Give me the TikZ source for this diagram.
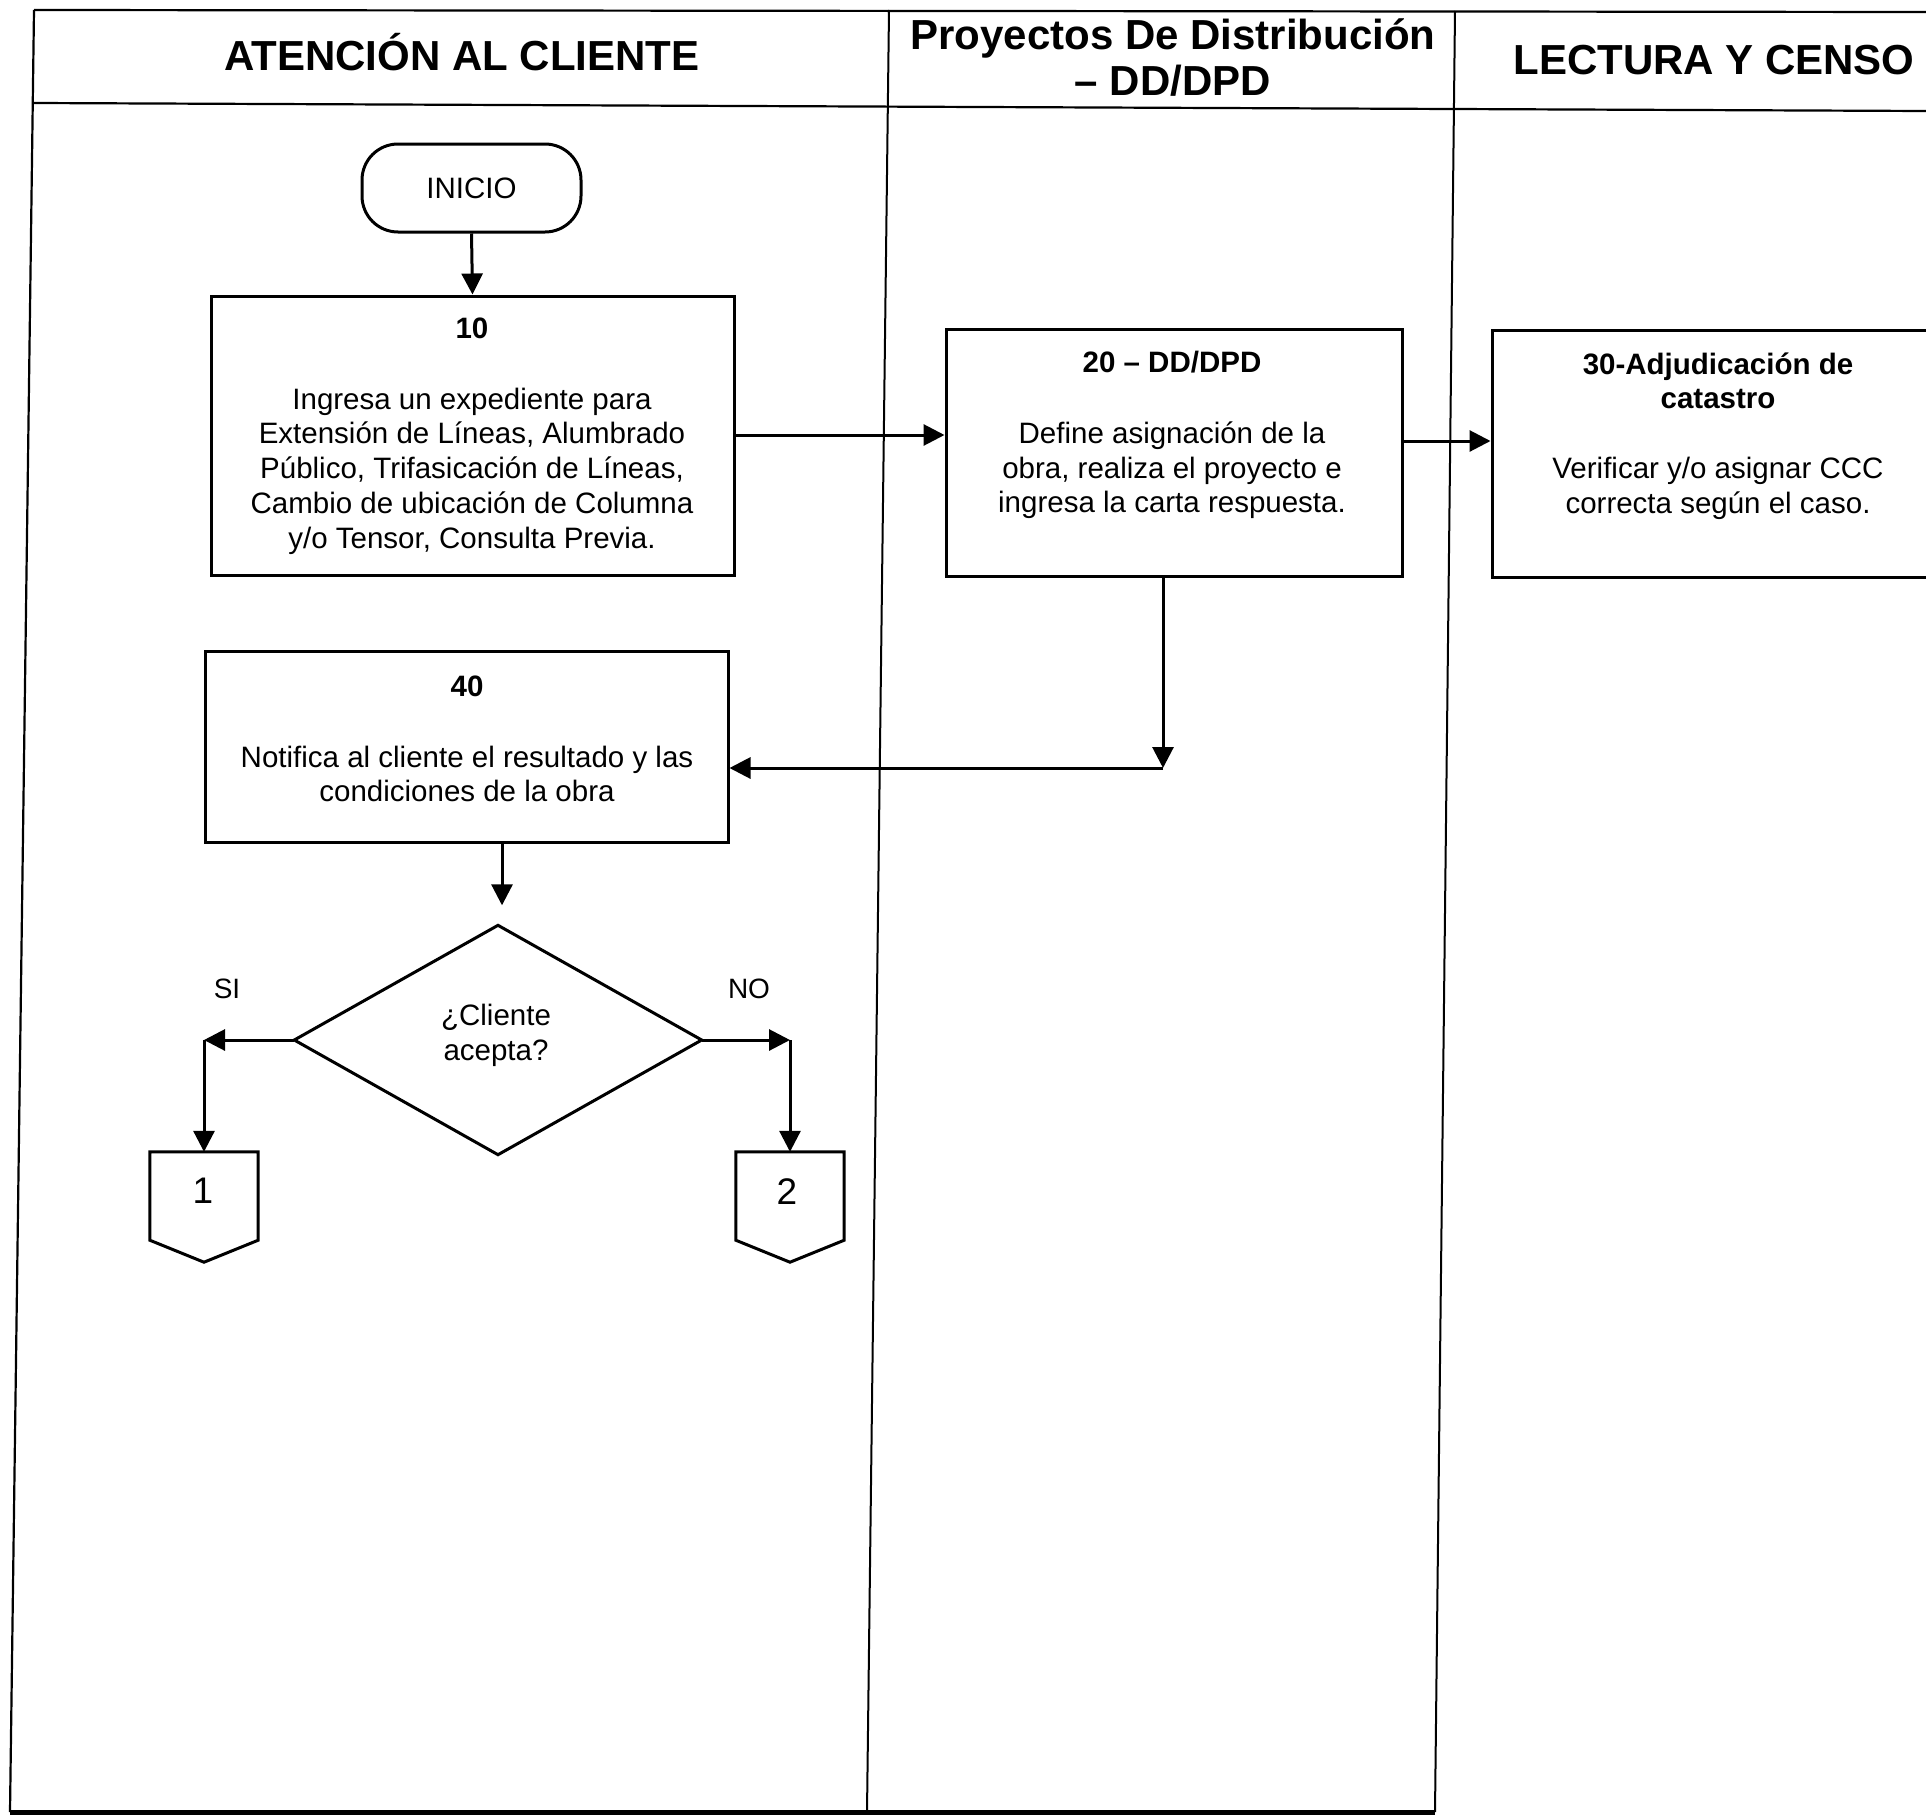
\documentclass[tikz,border=0pt]{standalone}
\usepackage{fontspec}
\setmainfont{Liberation Sans}
\usetikzlibrary{arrows.meta,calc}
\tikzset{
  frameline/.style={line width=2.2pt, black},
  laneline/.style={line width=2pt, black},
  boxstyle/.style={draw, line width=3pt, inner sep=0pt},
  plainshape/.style={inner sep=0pt},
  shapeline/.style={line width=3pt, line join=miter},
  txt/.style={align=center, inner sep=0pt, font=\fontsize{29.5}{34.8}\selectfont},
  headtxt/.style={align=center, inner sep=0pt, font=\fontsize{42}{46}\selectfont\bfseries},
  lbl/.style={inner sep=0pt, font=\fontsize{28}{32}\selectfont},
  numtxt/.style={inner sep=0pt, font=\fontsize{37}{40}\selectfont},
  arr/.style={-{Triangle[length=21pt,width=21pt]}, line width=3pt},
}
\begin{document}
\begin{tikzpicture}[x=1pt,y=-1pt]
\useasboundingbox (0,0) rectangle (1926,1817);
\fill[white] (0,0) rectangle (1926,1817);
\clip (0,0) rectangle (1926,1817);

% frame and lanes
\draw[frameline] (34,10) -- (1926,12);
\draw[frameline] (34,103) -- (1926,111);
\draw[frameline] (34,10) -- (10,1812);
\draw[laneline] (889,10) -- (867,1812);
\draw[laneline] (1455,11) -- (1435,1812);
\draw[line width=5pt] (10,1812) -- (1435,1812);

% headers
\node[headtxt, anchor=base] (h1) at (462,71) {ATENCIÓN AL CLIENTE};
\node[headtxt] (h2) at (1173,58) {Proyectos De Distribución\\– DD/DPD};
\node[headtxt, anchor=base] (h3) at (1714,75) {LECTURA Y CENSO};

% start
\node[boxstyle, rounded corners=36pt, minimum width=219pt, minimum height=88pt,
      font=\fontsize{29.5}{34.8}\selectfont] (ini) at (471.5,188) {INICIO};

% boxes
\node[boxstyle, minimum width=523pt, minimum height=279pt] (b10) at (472.5,435.5) {};
\node[txt] (t10) at (472,436) {\textbf{10}\\[36pt]Ingresa un expediente para\\Extensión de Líneas, Alumbrado\\Público, Trifasicación de Líneas,\\Cambio de ubicación de Columna\\y/o Tensor, Consulta Previa.};

\node[boxstyle, minimum width=456pt, minimum height=247pt] (b20) at (1174,452.5) {};
\node[txt] (t20) at (1172,435) {\textbf{20 – DD/DPD}\\[36pt]Define asignación de la\\obra, realiza el proyecto e\\ingresa la carta respuesta.};

\node[boxstyle, minimum width=458pt, minimum height=247pt] (b30) at (1721,453.5) {};
\node[txt] (t30) at (1718,436) {\textbf{30-Adjudicación de}\\\textbf{catastro}\\[35pt]Verificar y/o asignar CCC\\correcta según el caso.};

\node[boxstyle, minimum width=523pt, minimum height=191pt] (b40) at (466.5,746.5) {};
\node[txt] (t40) at (467,739) {\textbf{40}\\[36pt]Notifica al cliente el resultado y las\\condiciones de la obra};

% decision
\node[plainshape, minimum width=407pt, minimum height=229pt] (dec) at (498,1040) {};
\draw[shapeline] (dec.north) -- (dec.east) -- (dec.south) -- (dec.west) -- cycle;
\node[txt] (tdec) at (496,1035) {¿Cliente\\acepta?};

% off-page connectors
\node[plainshape, minimum width=108pt, minimum height=110pt] (c1) at (204,1207) {};
\draw[shapeline] (c1.north west) -- (c1.north east) -- ([yshift=22pt]c1.south east) -- (c1.south) -- ([yshift=22pt]c1.south west) -- cycle;
\node[numtxt] (n1) at (203,1191) {1};

\node[plainshape, minimum width=108pt, minimum height=110pt] (c2) at (790,1207) {};
\draw[shapeline] (c2.north west) -- (c2.north east) -- ([yshift=22pt]c2.south east) -- (c2.south) -- ([yshift=22pt]c2.south west) -- cycle;
\node[numtxt] (n2) at (787,1192) {2};

% labels
\node[lbl] (lsi) at (227,989) {SI};
\node[lbl] (lno) at (749,989) {NO};

% helper coordinates
\coordinate (a12) at (0,435);
\coordinate (a23) at (0,441);
\coordinate (k1) at (1163,768);
\coordinate (k4) at (502,0);
\coordinate (kS) at (c1.north |- dec.west);
\coordinate (kN) at (c2.north |- dec.east);

% connectors
\draw[arr] (ini.south) -- (b10.north);
\draw[arr] (b10.east |- a12) -- (b20.west |- a12);
\draw[arr] (b20.east |- a23) -- (b30.west |- a23);
\draw[arr] (b20.south -| k1) -- (k1);
\draw[arr] (k1) -- (b40.east |- k1);
\draw[arr, shorten >=20pt] (b40.south -| k4) -- (dec.north -| k4);
\draw[arr] (dec.west) -- (kS);
\draw[arr] (kS) -- (c1.north);
\draw[arr] (dec.east) -- (kN);
\draw[arr] (kN) -- (c2.north);
\end{tikzpicture}
\end{document}
